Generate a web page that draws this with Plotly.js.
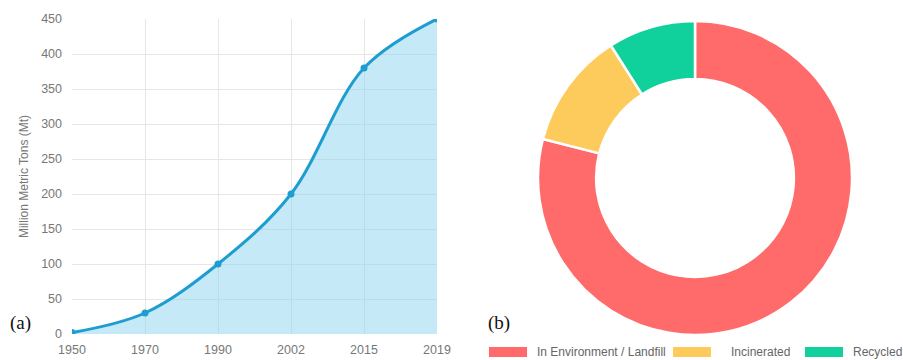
<!DOCTYPE html>
<html>
<head>
<meta charset="utf-8">
<script src="https://cdn.plot.ly/plotly-3.0.1.min.js"></script>
<style>
  html, body { margin: 0; padding: 0; background: #fff; }
  #chart { width: 903px; height: 360px; }
</style>
</head>
<body>
<div id="chart"></div>
<script>
// Global plastic production, million metric tons
const years = ['1950', '1970', '1990', '2002', '2015', '2019'];
const production = [2, 30, 100, 200, 380, 450];

// Fate of plastic waste, percent
const fateLabels = ['In Environment / Landfill', 'Incinerated', 'Recycled'];
const fateShares = [79, 12, 9];
const fateColors = ['#ff6b6b', '#fdca5c', '#10d09c'];

const yTicks = [0, 50, 100, 150, 200, 250, 300, 350, 400, 450];

const W = 903, H = 360;
const px = x => x / W;
const py = y => 1 - y / H;

const lineColor = '#1e9dd0';

const traces = [
  {
    type: 'scatter',
    mode: 'lines+markers',
    x: years,
    y: production,
    xaxis: 'x',
    yaxis: 'y',
    line: { color: lineColor, width: 3, shape: 'spline', smoothing: 1 },
    marker: { color: lineColor, size: 7 },
    fill: 'tozeroy',
    fillcolor: 'rgba(140, 212, 240, 0.5)',
    showlegend: false,
    hoverinfo: 'x+y'
  },
  {
    type: 'pie',
    labels: fateLabels,
    values: fateShares,
    hole: 0.63,
    sort: false,
    direction: 'clockwise',
    rotation: 0,
    marker: { colors: fateColors, line: { color: '#ffffff', width: 2.5 } },
    textinfo: 'none',
    showlegend: false,
    domain: { x: [px(695 - 157), px(695 + 157)], y: [py(178 + 157), py(178 - 157)] }
  }
];

const tickFont = { family: 'Liberation Sans, Arial, sans-serif', size: 12.5, color: '#777' };

const shapes = [];
const annotations = [
  { text: '(a)', x: px(8), y: py(323), xref: 'paper', yref: 'paper', xanchor: 'left', yanchor: 'middle',
    showarrow: false, font: { family: 'Liberation Serif, Times New Roman, serif', size: 19, color: '#111' } },
  { text: '(b)', x: px(486), y: py(323), xref: 'paper', yref: 'paper', xanchor: 'left', yanchor: 'middle',
    showarrow: false, font: { family: 'Liberation Serif, Times New Roman, serif', size: 19, color: '#111' } }
];

// Legend row under the doughnut: colour swatch followed by its label
const legendX = [489, 673, 805];
const legendTextX = [535, 729, 851];
fateLabels.forEach((label, i) => {
  shapes.push({
    type: 'rect', xref: 'paper', yref: 'paper',
    x0: px(legendX[i]), x1: px(legendX[i] + 38),
    y0: py(357), y1: py(347),
    fillcolor: fateColors[i], line: { width: 0 }
  });
  annotations.push({
    text: label, x: px(legendTextX[i]), y: py(352), xref: 'paper', yref: 'paper',
    xanchor: 'left', yanchor: 'middle', showarrow: false,
    font: { family: 'Liberation Sans, Arial, sans-serif', size: 12, color: '#666' }
  });
});

const layout = {
  width: W,
  height: H,
  margin: { l: 0, r: 0, t: 0, b: 0 },
  paper_bgcolor: '#ffffff',
  plot_bgcolor: '#ffffff',
  xaxis: {
    domain: [px(72), px(437)],
    type: 'category',
    range: [0, years.length - 1],
    showgrid: true,
    gridcolor: '#e6e6e6',
    gridwidth: 1,
    zeroline: false,
    showline: false,
    ticks: '',
    tickfont: tickFont,
    ticklabelstandoff: 6,
    fixedrange: true
  },
  yaxis: {
    domain: [py(334), py(19)],
    range: [0, 450],
    tickvals: yTicks,
    showgrid: true,
    gridcolor: '#e6e6e6',
    gridwidth: 1,
    zeroline: false,
    showline: false,
    ticks: '',
    tickfont: tickFont,
    ticklabelstandoff: 9,
    title: { text: 'Million Metric Tons (Mt)', font: { family: 'Liberation Sans, Arial, sans-serif', size: 12, color: '#777' }, standoff: 9 },
    fixedrange: true
  },
  shapes: shapes,
  annotations: annotations
};

Plotly.newPlot('chart', traces, layout, { displayModeBar: false, staticPlot: true });
</script>
</body>
</html>
